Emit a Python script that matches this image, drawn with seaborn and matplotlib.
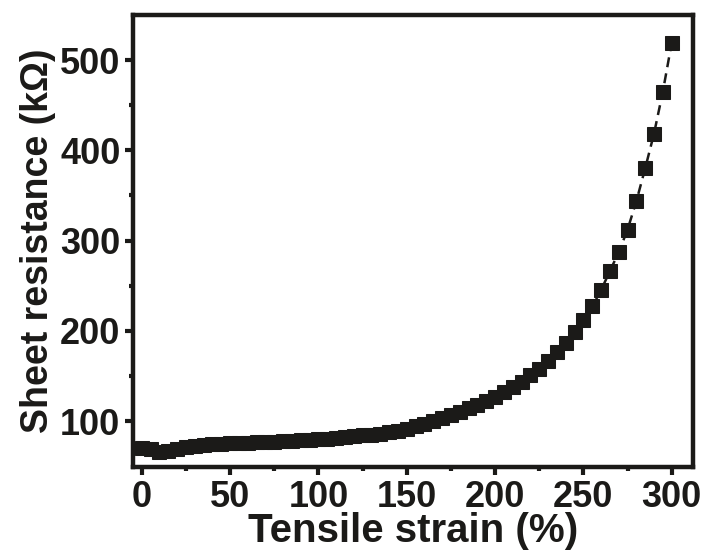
import numpy as np
import pandas as pd
import seaborn as sns
import matplotlib.pyplot as plt

# Tensile strain (%) and sheet resistance (kOhm)
strain = list(range(0, 301, 5))
resistance = [70, 69, 66, 67, 69, 71, 72.5, 73.5, 74, 75,
              75.5, 76, 76, 76.5, 77, 77, 77.5, 78, 78.5, 79,
              80, 80.5, 81.5, 82, 83, 84, 85, 86, 87.5, 89,
              91.5, 94, 97, 100, 103.5, 107, 110.5, 114, 118, 122.5,
              127, 132, 137.5, 143.5, 150.5, 158, 166.5, 176, 187, 199,
              212.5, 227, 245, 266, 287, 312, 343.5, 380, 418.5, 465,
              519]

x_ticks = [0, 50, 100, 150, 200, 250, 300]
y_ticks = [100, 200, 300, 400, 500]

df = pd.DataFrame({"strain": strain, "resistance": resistance})

sns.set_style("ticks")
plt.rcParams['font.family'] = ['Liberation Sans', 'DejaVu Sans']
plt.rcParams['font.weight'] = 'bold'

fig = plt.figure(figsize=(7.07, 5.56), dpi=100)
ax = fig.add_axes([0.188, 0.160, 0.792, 0.813])

ink = '#1b1a18'
sns.lineplot(data=df, x="strain", y="resistance", ax=ax, color=ink,
             marker='s', markersize=10, markeredgecolor=ink,
             linestyle=(0, (4, 2.5)), linewidth=1.8)

ax.set_xlim(-5, 312)
ax.set_ylim(49, 550)
ax.set_xticks(x_ticks)
ax.set_yticks(y_ticks)
ax.set_xticks([25, 75, 125, 175, 225, 275], minor=True)
ax.set_yticks([150, 250, 350, 450], minor=True)

ax.tick_params(axis='both', which='major', direction='out', length=6, width=3,
               labelsize=26, color=ink, labelcolor=ink, pad=3)
ax.tick_params(axis='both', which='minor', direction='out', length=3, width=3, color=ink)
for lab in ax.get_xticklabels() + ax.get_yticklabels():
    lab.set_fontweight('bold')

for s in ax.spines.values():
    s.set_linewidth(3.2)
    s.set_color(ink)

ax.set_xlabel('Tensile strain (%)', fontsize=29, fontweight='bold', color=ink, labelpad=-2)
ax.set_ylabel('Sheet resistance (k\u03a9)', fontsize=27, fontweight='bold', color=ink, labelpad=3)

fig.savefig('out.png', dpi=100)
